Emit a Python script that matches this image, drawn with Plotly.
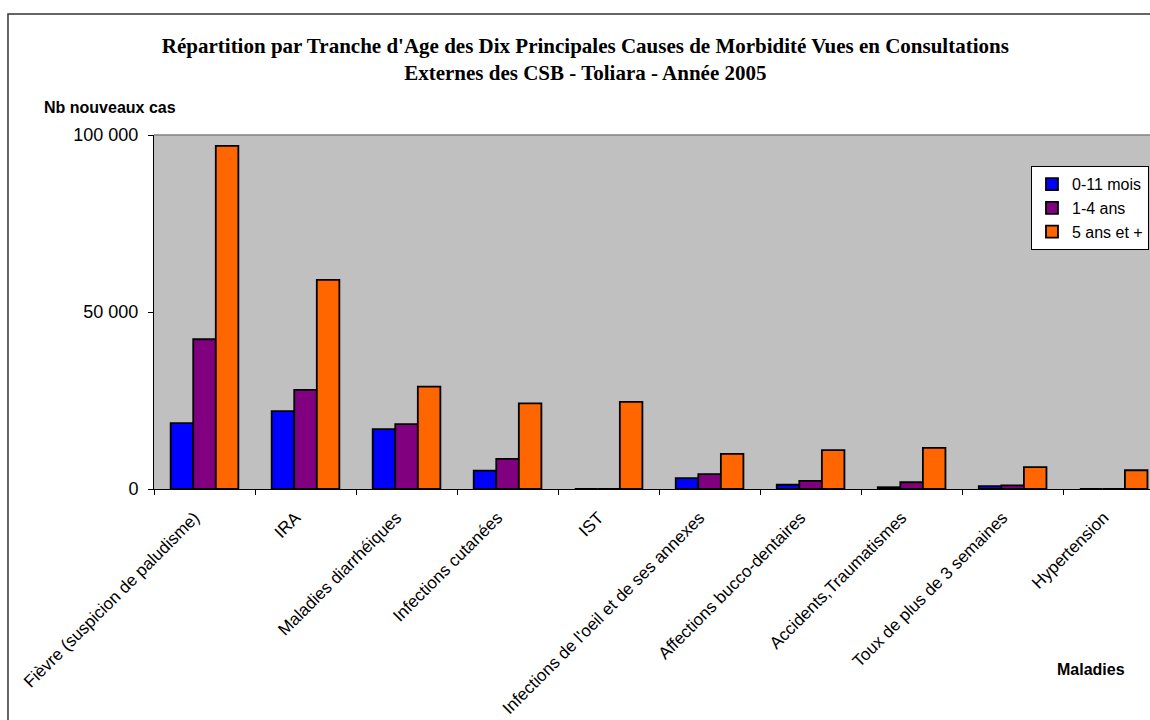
import plotly.graph_objects as go

# causes de morbidité (axe X)
maladies = [
    "Fièvre (suspicion de paludisme)",
    "IRA",
    "Maladies diarrhéiques",
    "Infections cutanées",
    "IST",
    "Infections de l'oeil et de ses annexes",
    "Affections bucco-dentaires",
    "Accidents,Traumatismes",
    "Toux de plus de 3 semaines",
    "Hypertension",
]

# nouveaux cas par tranche d'age
cas_0_11_mois = [18600, 22000, 16900, 5200, 0, 3100, 1200, 500, 800, 0]
cas_1_4_ans = [42300, 28000, 18300, 8500, 0, 4200, 2300, 1900, 1000, 0]
cas_5_ans_plus = [96900, 59100, 28900, 24200, 24600, 9900, 11000, 11600, 6200, 5300]

y_ticks = [0, 50000, 100000]
y_ticktext = ["0", "50 000", "100 000"]

series = [
    ("0-11 mois", cas_0_11_mois, "#0000FF"),
    ("1-4 ans", cas_1_4_ans, "#800080"),
    ("5 ans et +", cas_5_ans_plus, "#FF6600"),
]

sans = "Liberation Sans, Arial, sans-serif"
serif = "Liberation Serif, Times New Roman, serif"

fig = go.Figure()
for name, vals, color in series:
    fig.add_trace(go.Bar(
        x=maladies, y=vals, name=name,
        marker=dict(color=color, line=dict(color="black", width=1.8)),
    ))

fig.update_layout(
    width=1150, height=720,
    margin=dict(l=154, r=0, t=135, b=231, autoexpand=False),
    paper_bgcolor="white",
    plot_bgcolor="#C0C0C0",
    barmode="group",
    bargap=0.33,
    bargroupgap=0,
    font=dict(family=sans, size=16, color="black"),
    title=dict(
        text="<b>Répartition par Tranche d'Age des Dix Principales Causes de Morbidité Vues en Consultations<br>Externes des CSB - Toliara - Année 2005</b>",
        x=0.509, xanchor="center", xref="container",
        y=0.927, yanchor="top", yref="container",
        font=dict(family=serif, size=21, color="black"),
    ),
    legend=dict(
        x=0.8805, y=0.912, xanchor="left", yanchor="top",
        bgcolor="white", bordercolor="black", borderwidth=1,
        font=dict(family=sans, size=16),
        itemwidth=30,
    ),
    xaxis=dict(
        type="category",
        range=[-0.5, 9.36],
        automargin=False,
        tickson="boundaries",
        ticks="outside", ticklen=5, tickcolor="black",
        showline=True, linecolor="black", linewidth=1,
        tickangle=-45,
        tickfont=dict(family=sans, size=17),
        ticklabelstandoff=11,
        ticklabelshift=-10,
        showgrid=False,
    ),
    yaxis=dict(
        range=[0, 100000],
        automargin=False,
        tickvals=y_ticks, ticktext=y_ticktext,
        ticks="outside", ticklen=5, tickcolor="black",
        showline=True, linecolor="black", linewidth=1,
        tickfont=dict(family=sans, size=18),
        ticklabelstandoff=6,
        showgrid=False, zeroline=False,
    ),
    shapes=[
        # cadre extérieur du graphique
        dict(type="rect", xref="paper", yref="paper",
             x0=-0.1466, x1=1.3, y0=-1.0, y1=1.3418,
             line=dict(color="#333333", width=1.5), layer="below"),
        # bord supérieur de la zone de traçage
        dict(type="line", xref="paper", yref="paper",
             x0=0, x1=1, y0=1, y1=1,
             line=dict(color="#808080", width=1.5)),
    ],
    annotations=[
        dict(text="<b>Nb nouveaux cas</b>", xref="paper", yref="paper",
             x=-0.1124, y=1.079, xanchor="left", yanchor="middle",
             showarrow=False, font=dict(family=sans, size=16)),
        dict(text="<b>Maladies</b>", xref="paper", yref="paper",
             x=0.9046, y=-0.511, xanchor="left", yanchor="middle",
             showarrow=False, font=dict(family=sans, size=16)),
    ],
)

# pas de marge autour du graphique dans la page
fig.write_html(
    "out.html",
    config={"displayModeBar": False},
    post_script="document.body.style.margin='0';document.body.style.overflow='hidden';",
)
